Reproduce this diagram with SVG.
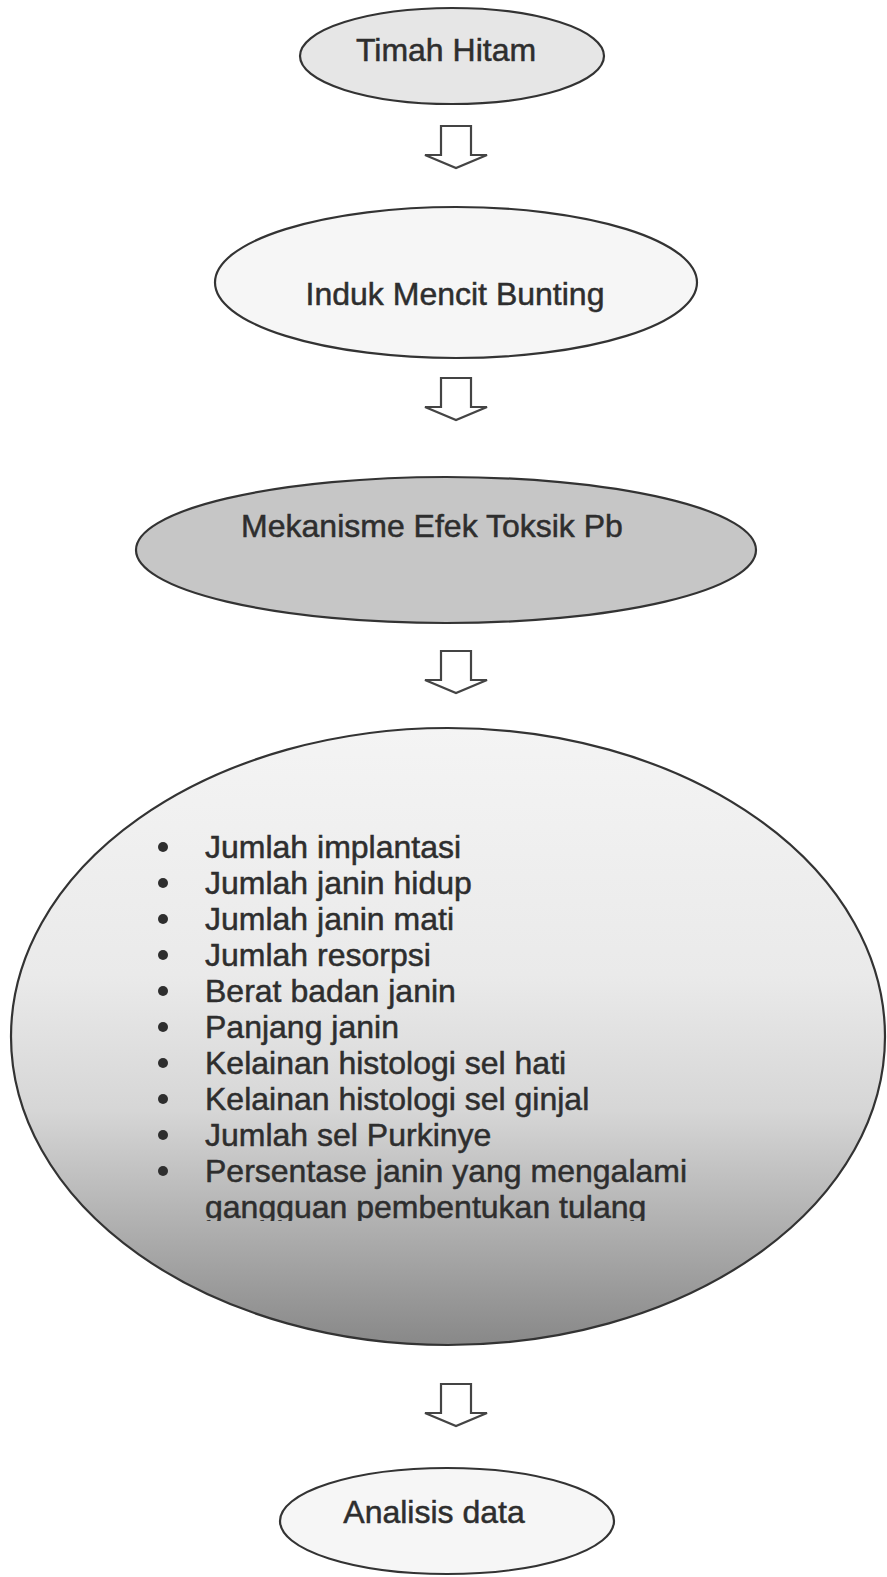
<svg xmlns="http://www.w3.org/2000/svg" xmlns:xlink="http://www.w3.org/1999/xlink" width="887" height="1577" viewBox="0 0 887 1577">
<style>
.node { stroke: #333; stroke-width: 2.2; }
.lbl { font-family: "Liberation Sans", Arial, sans-serif; font-size: 32px; fill: #2e2e2e; stroke: #2e2e2e; stroke-width: 0.5; }
.mid { text-anchor: middle; }
.arrow { fill: #fff; stroke: #444; stroke-width: 2.2; stroke-linejoin: miter; }
.bul { fill: #2e2e2e; }
</style>
<defs>
<linearGradient id="g4" x1="0" y1="0" x2="0" y2="1">
<stop offset="0" stop-color="#f4f4f4"/>
<stop offset="0.4" stop-color="#eaeaea"/>
<stop offset="0.62" stop-color="#d6d6d6"/>
<stop offset="1" stop-color="#888888"/>
</linearGradient>
<path id="blk" d="M -15 0 H 15 V 29 H 31 L 0 42 L -31 29 H -15 Z"/>
<clipPath id="cut"><rect x="0" y="0" width="887" height="1221"/></clipPath>
</defs>
<rect width="887" height="1577" fill="#fff"/>
<g id="connectors">
<use xlink:href="#blk" class="arrow" transform="translate(456,126)"/>
<use xlink:href="#blk" class="arrow" transform="translate(456,378)"/>
<use xlink:href="#blk" class="arrow" transform="translate(456,651)"/>
<use xlink:href="#blk" class="arrow" transform="translate(456,1384)"/>
</g>
<g id="timah-hitam">
<ellipse class="node" cx="452" cy="56" rx="152" ry="48" fill="#e6e6e6"/>
<text class="lbl mid" x="446" y="61">Timah Hitam</text>
</g>
<g id="induk-mencit">
<ellipse class="node" cx="456" cy="282.5" rx="241" ry="75.5" fill="#f6f6f6"/>
<text class="lbl mid" x="455" y="305">Induk Mencit Bunting</text>
</g>
<g id="mekanisme">
<ellipse class="node" cx="446" cy="550" rx="310" ry="73" fill="#c6c6c6"/>
<text class="lbl mid" x="432" y="537">Mekanisme Efek Toksik Pb</text>
</g>
<g id="parameter">
<ellipse class="node" cx="448" cy="1036.5" rx="437" ry="308.5" fill="url(#g4)"/>
<circle class="bul" cx="163" cy="847" r="5"/><text class="lbl" x="205" y="858">Jumlah implantasi</text>
<circle class="bul" cx="163" cy="883" r="5"/><text class="lbl" x="205" y="894">Jumlah janin hidup</text>
<circle class="bul" cx="163" cy="919" r="5"/><text class="lbl" x="205" y="930">Jumlah janin mati</text>
<circle class="bul" cx="163" cy="955" r="5"/><text class="lbl" x="205" y="966">Jumlah resorpsi</text>
<circle class="bul" cx="163" cy="991" r="5"/><text class="lbl" x="205" y="1002">Berat badan janin</text>
<circle class="bul" cx="163" cy="1027" r="5"/><text class="lbl" x="205" y="1038">Panjang janin</text>
<circle class="bul" cx="163" cy="1063" r="5"/><text class="lbl" x="205" y="1074">Kelainan histologi sel hati</text>
<circle class="bul" cx="163" cy="1099" r="5"/><text class="lbl" x="205" y="1110">Kelainan histologi sel ginjal</text>
<circle class="bul" cx="163" cy="1135" r="5"/><text class="lbl" x="205" y="1146">Jumlah sel Purkinye</text>
<circle class="bul" cx="163" cy="1171" r="5"/><text class="lbl" x="205" y="1182">Persentase janin yang mengalami</text>
<text class="lbl" x="205" y="1218" clip-path="url(#cut)">gangguan pembentukan tulang</text>
</g>
<g id="analisis">
<ellipse class="node" cx="447" cy="1521" rx="167" ry="53" fill="#f6f6f6"/>
<text class="lbl mid" x="434" y="1523">Analisis data</text>
</g>
</svg>
